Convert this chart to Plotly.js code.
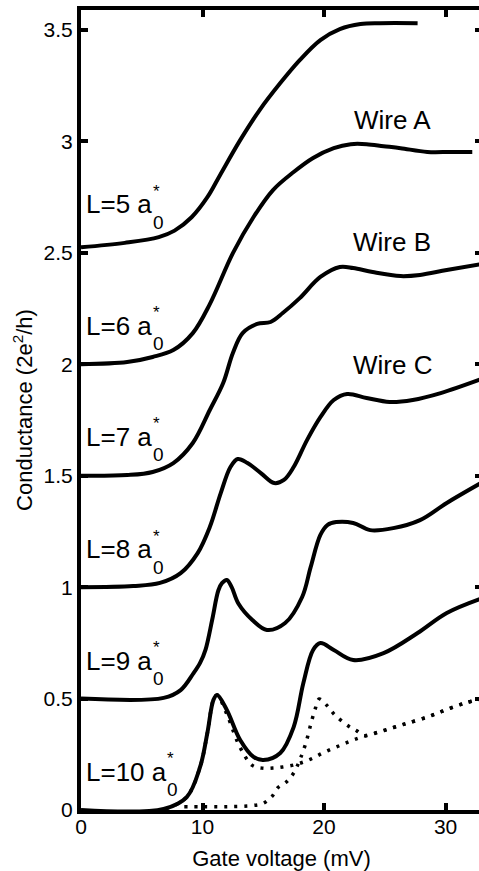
<!DOCTYPE html>
<html>
<head>
<meta charset="utf-8">
<script src="https://cdn.plot.ly/plotly-3.0.1.min.js"></script>
<style>
html,body{margin:0;padding:0;overflow:hidden;background:#fff;}
#chart{width:482px;height:871px;}
</style>
</head>
<body>
<div id="chart"></div>
<script>
// ---- data (conductance curves, offset by 0.5 each) ----
const xL5 = [0, 3.6, 6.4, 7.7, 9.1, 10.4, 11.45, 13.1, 14.7, 16.4, 18.0, 19.7, 21.3, 23.0, 24.6, 27.7];
const yL5 = [2.525, 2.545, 2.571, 2.60, 2.66, 2.75, 2.85, 3.006, 3.141, 3.262, 3.365, 3.455, 3.504, 3.527, 3.531, 3.531];

const xL6 = [0, 3.8, 5.9, 7.6, 9.2, 10.6, 12.5, 14.2, 15.8, 17.5, 19.1, 20.8, 22.2, 23.5, 24.9, 26.3, 28.5, 30.4, 32.2];
const yL6 = [2.0, 2.01, 2.033, 2.064, 2.14, 2.27, 2.499, 2.661, 2.782, 2.863, 2.926, 2.97, 2.988, 2.988, 2.979, 2.97, 2.953, 2.953, 2.953];

const xL7 = [0, 3.8, 5.9, 7.6, 9.2, 10.6, 11.7, 12.5, 13.3, 14.5, 15.6, 16.6, 18.0, 19.7, 21.3, 22.4, 24.0, 26.3, 27.9, 30.1, 33];
const yL7 = [1.5, 1.503, 1.517, 1.557, 1.647, 1.795, 1.916, 2.051, 2.14, 2.181, 2.19, 2.23, 2.297, 2.392, 2.437, 2.432, 2.414, 2.396, 2.401, 2.423, 2.45];

const xL8 = [0, 4.3, 6.5, 8.2, 9.6, 10.6, 11.5, 12.3, 12.9, 13.7, 14.8, 15.9, 16.7, 17.5, 18.6, 19.7, 20.8, 21.9, 23.5, 25.4, 27.3, 29.6, 33];
const yL8 = [1.0, 1.005, 1.019, 1.063, 1.153, 1.27, 1.422, 1.539, 1.575, 1.557, 1.512, 1.467, 1.481, 1.539, 1.66, 1.763, 1.84, 1.867, 1.849, 1.831, 1.84, 1.871, 1.935];

const xL9 = [0, 6.8, 8.2, 9.25, 9.8, 10.25, 10.8, 11.3, 11.6, 12.0, 12.4, 12.95, 14.1, 15.3, 16.8, 18.2, 18.9, 19.7, 20.3, 21.0, 22.4, 23.8, 25.7, 27.9, 30.1, 33];
const yL9 = [0.5, 0.503, 0.538, 0.613, 0.66, 0.72, 0.855, 0.985, 1.018, 1.032, 1.0, 0.927, 0.853, 0.808, 0.839, 0.956, 1.09, 1.235, 1.28, 1.292, 1.288, 1.256, 1.265, 1.301, 1.378, 1.47];

const xL10 = [0, 6.8, 8.7, 9.8, 10.4, 10.9, 11.2, 12.0, 13.1, 14.2, 15.0, 16.4, 17.5, 18.3, 19.1, 19.7, 20.8, 22.4, 24.9, 27.7, 30.1, 33];
const yL10 = [0, 0.005, 0.058, 0.193, 0.346, 0.494, 0.516, 0.449, 0.314, 0.238, 0.224, 0.256, 0.372, 0.57, 0.718, 0.749, 0.718, 0.673, 0.704, 0.794, 0.884, 0.95];

// dotted comparison curves (L=10)
const xDotA = [8.5, 10, 12, 14.1, 15.0, 15.7, 16.2, 16.9, 17.5, 18.0, 18.5, 19.0, 19.3, 19.6, 20.2, 20.9, 22.0, 22.7, 23.4, 24.5, 25.3, 26.1, 26.9, 28.5, 30.0, 31.6, 33];
const yDotA = [0.015, 0.015, 0.015, 0.02, 0.03, 0.06, 0.1, 0.126, 0.166, 0.224, 0.3, 0.404, 0.458, 0.498, 0.471, 0.426, 0.377, 0.355, 0.333, 0.35, 0.363, 0.377, 0.39, 0.417, 0.449, 0.48, 0.5];

const xDotB = [7, 8.7, 9.8, 10.4, 10.9, 11.2, 12.0, 13.1, 14.1, 14.9, 15.8, 16.6, 17.5, 18.3, 19.1, 19.9, 20.8, 21.6, 22.4, 23.4, 24.5, 25.3, 26.1, 26.9, 28.5, 30.0, 31.6, 33];
const yDotB = [0.005, 0.058, 0.193, 0.346, 0.494, 0.516, 0.43, 0.28, 0.2, 0.188, 0.188, 0.193, 0.202, 0.215, 0.233, 0.256, 0.278, 0.296, 0.314, 0.333, 0.35, 0.363, 0.377, 0.39, 0.417, 0.449, 0.48, 0.5];

const lengthLabels = ["L=5 a", "L=6 a", "L=7 a", "L=8 a", "L=9 a", "L=10 a"];
const lengthLabelY = [2.719, 2.172, 1.674, 1.171, 0.669, 0.171];
const wireLabels = ["Wire A", "Wire B", "Wire C"];
const wireLabelY = [3.096, 2.549, 1.997];

const xTickVals = [0, 10, 20, 30];
const xTickText = ["0", "10", "20", "30"];
const yTickVals = [0, 0.5, 1, 1.5, 2, 2.5, 3, 3.5];
const yTickText = ["0", "0.5", "1", "1.5", "2", "2.5", "3", "3.5"];

// ---- drawing ----
const FONT = '"Liberation Sans", Arial, Helvetica, sans-serif';
const solid = {color: '#000', width: 4, shape: 'spline', smoothing: 1.0};
const dotted = {color: '#000', width: 3.5, dash: '3px,7px', shape: 'spline', smoothing: 1.0};
const solidSeries = [[xL5, yL5], [xL6, yL6], [xL7, yL7], [xL8, yL8], [xL9, yL9], [xL10, yL10]];
const traces = [];
traces.push({x: xDotA, y: yDotA, mode: 'lines', line: dotted, hoverinfo: 'skip'});
traces.push({x: xDotB, y: yDotB, mode: 'lines', line: dotted, hoverinfo: 'skip'});
solidSeries.forEach(s => traces.push({x: s[0], y: s[1], mode: 'lines', line: solid, hoverinfo: 'skip'}));

// annotation helpers (pixel offsets within the plot)
const L = 81, W = 401, T = 10, H = 800;
const px2x = px => (px - L) / W;           // paper coords
const pxPerUnit = 222.86;
const annotations = [];
lengthLabels.forEach((t, i) => {
  const y = lengthLabelY[i];
  const endPx = i === 5 ? 164 : 150;
  annotations.push({xref: 'paper', yref: 'y', x: px2x(84), y: y, xanchor: 'left', yanchor: 'middle',
    text: t, showarrow: false, font: {family: FONT, size: 26, color: '#000'}});
  annotations.push({xref: 'paper', yref: 'y', x: px2x(endPx + 8), y: y - 18 / pxPerUnit, xanchor: 'center', yanchor: 'middle',
    text: '0', showarrow: false, font: {family: FONT, size: 19, color: '#000'}});
  annotations.push({xref: 'paper', yref: 'y', x: px2x(endPx + 6), y: y + 13 / pxPerUnit, xanchor: 'center', yanchor: 'middle',
    text: '*', showarrow: false, font: {family: FONT, size: 17, color: '#000'}});
});
wireLabels.forEach((t, i) => {
  annotations.push({xref: 'paper', yref: 'y', x: px2x(392), y: wireLabelY[i], xanchor: 'center', yanchor: 'middle',
    text: t, showarrow: false, font: {family: FONT, size: 26, color: '#000'}});
});

const layout = {
  width: 482, height: 871,
  margin: {l: L, r: 0, t: T, b: 61, pad: 0},
  paper_bgcolor: '#fff', plot_bgcolor: '#fff',
  showlegend: false,
  font: {family: FONT, color: '#000', size: 21},
  xaxis: {
    range: [0, 33], tickvals: xTickVals, ticktext: xTickText,
    ticks: 'inside', ticklen: 7, tickwidth: 4, tickcolor: '#000',
    showline: true, linewidth: 4, linecolor: '#000', mirror: 'ticks',
    showgrid: false, zeroline: false, ticklabelstandoff: -5,
    tickfont: {family: FONT, size: 21, color: '#000'},
    title: {text: 'Gate voltage (mV)', font: {family: FONT, size: 22, color: '#000'}, standoff: 14},
    automargin: false
  },
  yaxis: {
    range: [0, 3.59], tickvals: yTickVals, ticktext: yTickText,
    ticks: 'inside', ticklen: 7, tickwidth: 4, tickcolor: '#000',
    showline: true, linewidth: 4, linecolor: '#000', mirror: 'ticks',
    showgrid: false, zeroline: false,
    tickfont: {family: FONT, size: 21, color: '#000'},
    title: {text: 'Conductance (2e<sup>2</sup>/h)', font: {family: FONT, size: 22, color: '#000'}, standoff: 6},
    automargin: false
  },
  annotations: annotations
};

Plotly.newPlot('chart', traces, layout, {staticPlot: true, displayModeBar: false});
</script>
</body>
</html>
